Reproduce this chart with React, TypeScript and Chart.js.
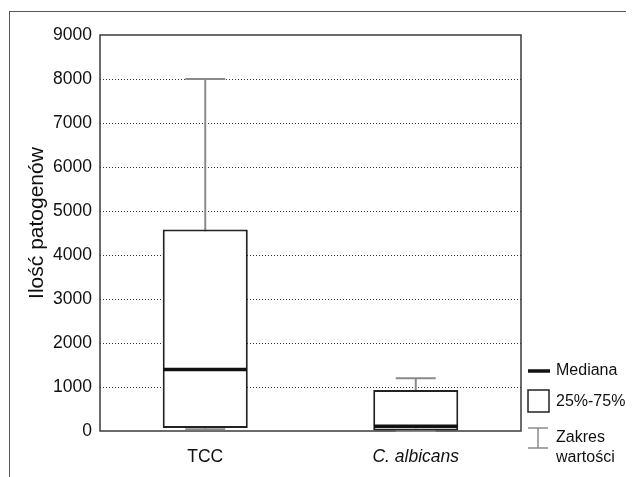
import React, { useEffect, useRef } from "react";
import { Chart, registerables } from "chart.js";

Chart.register(...registerables);

const categories = ["TCC", "C. albicans"];
const mins = [40, 0];
const q1s = [70, 0];
const medians = [1400, 110];
const q3s = [4580, 930];
const maxs = [8000, 1200];
const yMin = 0;
const yMax = 9000;
const yStep = 1000;
const yTitle = "Ilość patogenów";
const legendMedian = "Mediana";
const legendBox = "25%-75%";
const legendRange = ["Zakres", "wartości"];

const FONT = "'Liberation Sans', Arial, Helvetica, sans-serif";

const boxPlugin = {
  id: "boxExtras",
  beforeDatasetsDraw(chart: any) {
    const { ctx, chartArea, scales } = chart;
    const y = scales.y;
    const meta = chart.getDatasetMeta(0);
    ctx.save();
    ctx.strokeStyle = "#3a3a3a";
    ctx.lineWidth = 1.5;
    ctx.strokeRect(chartArea.left, chartArea.top, chartArea.right - chartArea.left, chartArea.bottom - chartArea.top);
    ctx.strokeStyle = "#8a8a8a";
    ctx.lineWidth = 2;
    meta.data.forEach((bar: any, i: number) => {
      const x = bar.x;
      const half = bar.width * 0.235;
      const yT = y.getPixelForValue(maxs[i]);
      const yB = y.getPixelForValue(mins[i]);
      ctx.beginPath();
      ctx.moveTo(x, yT);
      ctx.lineTo(x, yB);
      ctx.moveTo(x - half, yT);
      ctx.lineTo(x + half, yT);
      ctx.moveTo(x - half, yB);
      ctx.lineTo(x + half, yB);
      ctx.stroke();
    });
    ctx.restore();
  },
  afterDatasetsDraw(chart: any) {
    const { ctx, scales } = chart;
    const y = scales.y;
    const meta = chart.getDatasetMeta(0);
    ctx.save();
    ctx.strokeStyle = "#111";
    ctx.lineWidth = 3.5;
    meta.data.forEach((bar: any, i: number) => {
      const yy = y.getPixelForValue(medians[i]);
      ctx.beginPath();
      ctx.moveTo(bar.x - bar.width / 2 + 1, yy);
      ctx.lineTo(bar.x + bar.width / 2 - 1, yy);
      ctx.stroke();
    });
    ctx.restore();
  },
  afterDraw(chart: any) {
    const { ctx, chartArea } = chart;
    ctx.save();
    // outer frame
    ctx.strokeStyle = "#555";
    ctx.lineWidth = 1;
    ctx.strokeRect(1.5, 3.5, 2000, 2000);
    // y title
    ctx.save();
    ctx.translate(29, 215);
    ctx.rotate(-Math.PI / 2);
    ctx.font = "21px " + FONT;
    ctx.fillStyle = "#111";
    ctx.textAlign = "center";
    ctx.textBaseline = "middle";
    ctx.fillText(yTitle, 0, 0);
    ctx.restore();
    // legend
    const lx = chartArea.right + 7;
    const tx = chartArea.right + 35;
    ctx.font = "16px " + FONT;
    ctx.fillStyle = "#111";
    ctx.textBaseline = "middle";
    ctx.textAlign = "left";
    ctx.strokeStyle = "#111";
    ctx.lineWidth = 3.5;
    ctx.beginPath();
    ctx.moveTo(lx, 363);
    ctx.lineTo(lx + 22, 363);
    ctx.stroke();
    ctx.fillText(legendMedian, tx, 363);
    ctx.strokeStyle = "#222";
    ctx.lineWidth = 1.5;
    ctx.strokeRect(lx, 382, 21, 22);
    ctx.fillText(legendBox, tx, 394);
    ctx.strokeStyle = "#8a8a8a";
    ctx.lineWidth = 1.5;
    ctx.beginPath();
    ctx.moveTo(lx + 10, 420);
    ctx.lineTo(lx + 10, 440);
    ctx.moveTo(lx, 420);
    ctx.lineTo(lx + 20, 420);
    ctx.moveTo(lx, 440);
    ctx.lineTo(lx + 20, 440);
    ctx.stroke();
    ctx.fillText(legendRange[0], tx, 430);
    ctx.fillText(legendRange[1], tx, 450);
    ctx.restore();
  },
};

export default function App() {
  const ref = useRef<HTMLCanvasElement>(null);
  useEffect(() => {
    if (!ref.current) return;
    const chart = new Chart(ref.current, {
      type: "bar",
      data: {
        labels: categories,
        datasets: [
          {
            data: q1s.map((q, i) => [q, q3s[i]]) as any,
            backgroundColor: "#ffffff",
            borderColor: "#222222",
            borderWidth: 2,
            borderSkipped: false,
            barPercentage: 0.404,
            categoryPercentage: 1,
            clip: false as any,
          },
        ],
      },
      options: {
        animation: false,
        responsive: false,
        devicePixelRatio: 1,
        layout: { padding: { top: 27, right: 113, left: 0, bottom: 0 } },
        plugins: { legend: { display: false }, tooltip: { enabled: false } },
        scales: {
          x: {
            grid: { display: false, drawTicks: false },
            border: { display: false },
            ticks: {
              padding: 16,
              color: "#111",
              font: (c: any) => ({ family: FONT, size: 17.5, style: c.index === 1 ? "italic" : "normal" }),
            },
            afterFit: (s: any) => {
              s.height = 46;
            },
          },
          y: {
            min: yMin,
            max: yMax,
            grid: {
              drawTicks: false,
              lineWidth: 1,
              color: (c: any) =>
                c.tick && (c.tick.value === yMin || c.tick.value === yMax) ? "rgba(0,0,0,0)" : "#333",
            },
            border: { display: false, dash: [1, 2] },
            ticks: {
              stepSize: yStep,
              padding: 8,
              color: "#111",
              font: { family: FONT, size: 17.5 },
              callback: (v: any) => String(v),
            },
            afterFit: (s: any) => {
              s.width = 92;
            },
          },
        },
      },
      plugins: [boxPlugin],
    });
    return () => chart.destroy();
  }, []);
  return <canvas ref={ref} width={626} height={469} style={{ display: "block" }} />;
}
